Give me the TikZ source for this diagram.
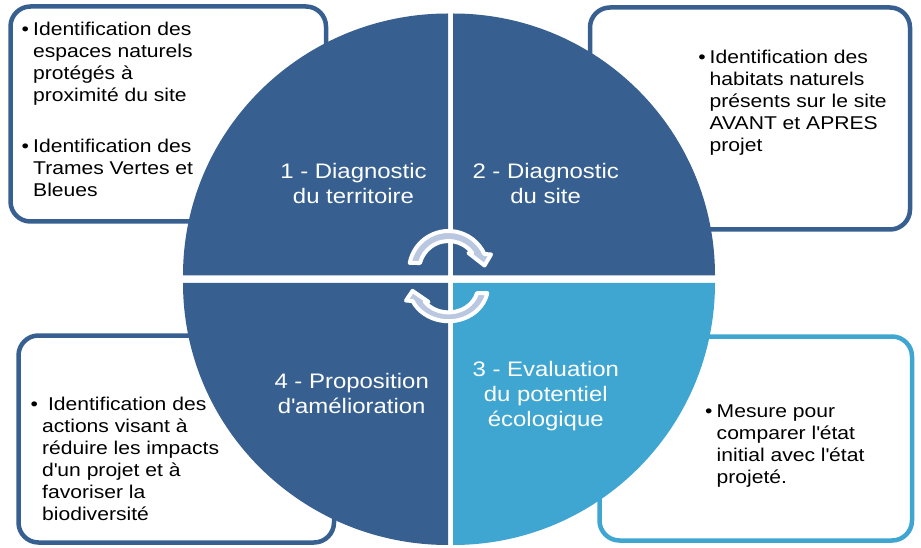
\documentclass[tikz,border=0pt]{standalone}
\usepackage{fontspec}
\setmainfont{Liberation Sans}[FakeStretch=1.14]
\definecolor{dkblue}{RGB}{55,96,145}
\definecolor{ltblue}{RGB}{63,166,210}
\definecolor{arrfill}{RGB}{185,199,224}
\newcommand\cycarrowpath{(169:39.5) arc[start angle=169,end angle=24.7,radius=39.5] -- (42.5,16) -- (36,5) -- (20,17.5) -- (36.4:29.5) arc[start angle=36.4,end angle=165.3,radius=29.5] -- cycle}
\begin{document}
\begin{tikzpicture}[x=1pt,y=1pt,
  box/.style={line width=4.5pt, rounded corners=20pt, fill=white},
  lbl/.style={anchor=base, inner sep=0pt, text=white, font=\fontsize{21}{25}\selectfont},
  txt/.style={anchor=base west, inner sep=0pt, font=\fontsize{18.5}{22}\selectfont},
  bul/.style={anchor=base, inner sep=0pt, font=\fontsize{18.5}{22}\selectfont},
  cyc/.style={draw=white, line width=4pt, line join=round, fill=arrfill}
]
\useasboundingbox (0,0) rectangle (921,547);
\fill[white] (0,0) rectangle (921,547);

% side boxes
\draw[box, draw=dkblue] (10.5,325.5) rectangle (326,540.5);
\draw[box, draw=dkblue] (590,317.5) rectangle (910,539.5);
\draw[box, draw=dkblue] (18.5,4.5) rectangle (334,211.5);
\draw[box, draw=ltblue] (599.5,6.5) rectangle (912,210.5);

% quadrants
\fill[dkblue] (448,271.5) -- (183,271.5) arc[start angle=180,end angle=90,x radius=265,y radius=262] -- cycle;
\fill[dkblue] (453,271.5) -- (453,533.5) arc[start angle=90,end angle=0,x radius=262,y radius=262] -- cycle;
\fill[dkblue] (448,264) -- (448,2) arc[start angle=270,end angle=180,x radius=265,y radius=262] -- cycle;
\fill[ltblue] (453,264) -- (715,264) arc[start angle=0,end angle=-90,x radius=262,y radius=262] -- cycle;

% cycle arrows
\begin{scope}[shift={(448.5,268)}]
  \filldraw[cyc,shift={(0,8.5)}] \cycarrowpath;
\end{scope}
\begin{scope}[shift={(448.5,268)}, rotate=180, yscale=0.88]
  \filldraw[cyc,shift={(0,8.5)}] \cycarrowpath;
\end{scope}

% quadrant labels
\node[lbl] (q1) at (353.5,368.7) {\parbox[t]{180pt}{\centering 1 - Diagnostic\\du territoire}};
\node[lbl] (q2) at (545.7,368.7) {\parbox[t]{180pt}{\centering 2 - Diagnostic\\du site}};
\node[lbl] (q4) at (351.7,158.7) {\parbox[t]{180pt}{\centering 4 - Proposition\\d\textquotesingle amélioration}};
\node[lbl] (q3) at (545.8,171) {\parbox[t]{180pt}{\centering 3 - Evaluation\\du potentiel\\écologique}};

% box texts
\node[bul] (b1) at (25.3,511) {•};
\node[txt] (t1) at (33,511) {\parbox[t]{250pt}{Identification des\\espaces naturels\\protégés à\\proximité du site}};
\node[bul] (b2) at (25.3,394) {•};
\node[txt] (t2) at (33,394) {\parbox[t]{250pt}{Identification des\\Trames Vertes et\\Bleues}};
\node[bul] (b3) at (702,483.5) {•};
\node[txt] (t3) at (709.5,483.5) {\parbox[t]{200pt}{Identification des\\habitats naturels\\présents sur le site\\AVANT et APRES\\projet}};
\node[bul] (b4) at (34.2,136.3) {•};
\node[txt] (t4) at (42,136.3) {\parbox[t]{250pt}{~Identification des\\actions visant à\\réduire les impacts\\d\textquotesingle un projet et à\\favoriser la\\biodiversité}};
\node[bul] (b5) at (708.8,129.7) {•};
\node[txt] (t5) at (716.5,129.7) {\parbox[t]{200pt}{Mesure pour\\comparer l\textquotesingle état\\initial avec l\textquotesingle état\\projeté.}};
\end{tikzpicture}
\end{document}
